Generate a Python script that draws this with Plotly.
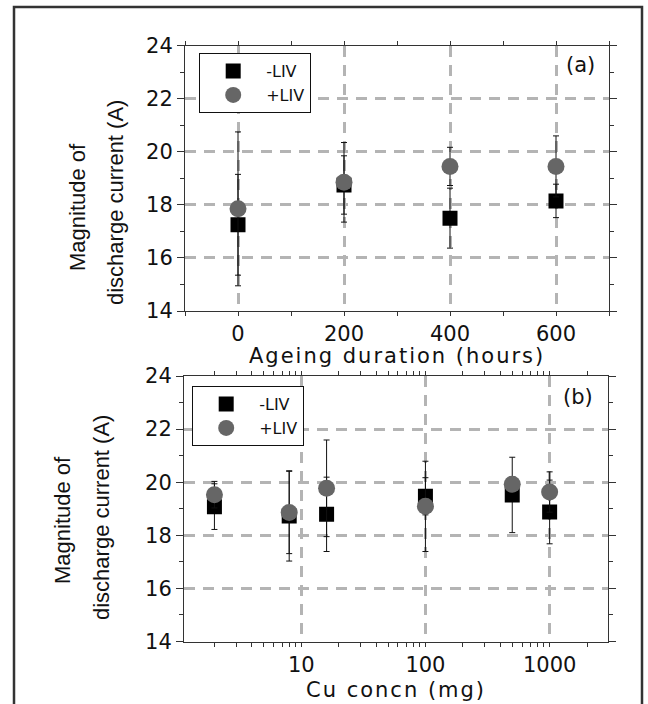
import plotly.graph_objects as go

# ---------------- data ----------------
ageing_hours = [0, 200, 400, 600]
a_minus_liv = [17.25, 18.75, 17.5, 18.15]
a_minus_err = [1.9, 1.1, 1.13, 0.63]
a_plus_liv = [17.85, 18.85, 19.45, 19.45]
a_plus_err = [2.9, 1.5, 0.72, 1.15]

cu_mg = [2, 8, 16, 100, 500, 1000]
b_minus_liv = [19.08, 18.73, 18.79, 19.47, 19.52, 18.88]
b_minus_err = [0.86, 1.7, 1.4, 0.7, 1.42, 1.2]
b_plus_liv = [19.53, 18.86, 19.77, 19.09, 19.92, 19.63]
b_plus_err = [0.5, 1.55, 1.82, 1.7, 0.28, 0.76]

y_ticks = [14, 16, 18, 20, 22, 24]
a_x_ticks = [0, 200, 400, 600]
b_x_ticks = [10, 100, 1000]
b_x_minor = [2, 3, 4, 5, 6, 7, 8, 9, 20, 30, 40, 50, 60, 70, 80, 90,
             200, 300, 400, 500, 600, 700, 800, 900, 2000, 3000]

W, H = 648, 704
def px(x): return x / W
def py(y): return 1 - y / H

TICKFONT = dict(family="DejaVu Sans", size=21, color="#111")
GRID = dict(showgrid=True, gridcolor="#b4b4b4", gridwidth=2.5, griddash="11px,8px")
AX = dict(showline=True, linecolor="#333", linewidth=1, mirror="ticks",
          ticks="outside", tickcolor="#333", tickfont=TICKFONT,
          zeroline=False, automargin=False)
MINOR = dict(ticks="outside", ticklen=4, tickcolor="#333")

fig = go.Figure()

def add(x, y, err, name, sym, color, size, xa, ya, legend):
    fig.add_trace(go.Scatter(
        x=x, y=y, mode="markers", name=name, xaxis=xa, yaxis=ya,
        legend=legend,
        marker=dict(symbol=sym, color=color, size=size, line=dict(width=0)),
        error_y=dict(type="data", array=err, visible=True, color="#111",
                     thickness=1, width=3)))

add(ageing_hours, a_minus_liv, a_minus_err, "-LIV", "square", "#000", 15, "x", "y", "legend")
add(ageing_hours, a_plus_liv, a_plus_err, "+LIV", "circle", "#666", 17, "x", "y", "legend")
add(cu_mg, b_minus_liv, b_minus_err, "-LIV", "square", "#000", 15, "x2", "y2", "legend2")
add(cu_mg, b_plus_liv, b_plus_err, "+LIV", "circle", "#666", 17, "x2", "y2", "legend2")

LEG = dict(xanchor="left", yanchor="top", bordercolor="#111", borderwidth=1.2,
           bgcolor="white", font=dict(family="DejaVu Sans", size=16, color="#111"),
           itemwidth=56, tracegroupgap=0)

fig.update_layout(
    width=W, height=H, margin=dict(l=0, r=0, t=0, b=0, pad=0, autoexpand=False),
    paper_bgcolor="white", plot_bgcolor="white",
    font=dict(family="DejaVu Sans", color="#111"),
    xaxis=dict(domain=[px(185), px(609)], anchor="y", range=[-100, 700], ticklen=4,
               tickvals=a_x_ticks, minor=dict(dtick=100, tick0=0, **MINOR),
               **GRID, **AX),
    yaxis=dict(domain=[py(311), py(45.7)], anchor="x", range=[14, 24], ticklen=7,
               tickvals=y_ticks, minor=dict(dtick=1, tick0=0, **MINOR),
               **GRID, **AX),
    xaxis2=dict(domain=[px(184), px(608)], anchor="y2", type="log", range=[0.056, 3.47],
                ticklen=4, tickvals=b_x_ticks, ticktext=[str(v) for v in b_x_ticks],
                minor=dict(tickvals=b_x_minor, **MINOR),
                **GRID, **AX),
    yaxis2=dict(domain=[py(641.5), py(376)], anchor="x2", range=[14, 24], ticklen=7,
                tickvals=y_ticks, minor=dict(dtick=1, tick0=0, **MINOR),
                **GRID, **AX),
    legend=dict(x=px(199), y=py(53), **LEG),
    legend2=dict(x=px(192), y=py(386), **LEG),
)

ann = []
def text(x, y, s, size, family="DejaVu Sans", angle=0):
    ann.append(dict(x=px(x), y=py(y), xref="paper", yref="paper", text=s,
                    showarrow=False, textangle=angle, xanchor="center", yanchor="middle",
                    font=dict(family=family, size=size, color="#111")))

text(580, 65, "(a)", 21)
text(578, 397, "(b)", 21)
text(397, 356, '<span style="letter-spacing:2px">Ageing duration (hours)</span>', 21)
text(396, 690, '<span style="letter-spacing:2px">Cu concn (mg)</span>', 21)
text(78, 207, "Magnitude of", 22, "Liberation Sans", -90)
text(115, 203, "discharge current (A)", 22, "Liberation Sans", -90)
text(62, 520, "Magnitude of", 22, "Liberation Sans", -90)
text(101, 518, "discharge current (A)", 22, "Liberation Sans", -90)
fig.update_layout(annotations=ann)

fig.add_shape(type="rect", xref="paper", yref="paper",
              x0=px(14), x1=px(642), y0=-0.05, y1=py(7),
              line=dict(color="#333", width=2.5), fillcolor="rgba(0,0,0,0)", layer="above")

fig.write_html("out.html")
